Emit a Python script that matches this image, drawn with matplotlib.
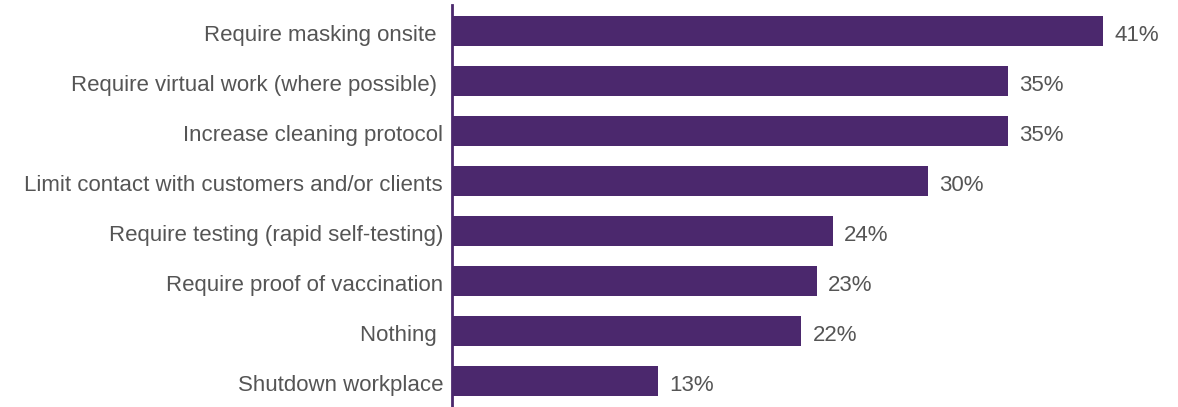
import matplotlib
matplotlib.use("Agg")
import matplotlib.pyplot as plt

categories = [
    "Require masking onsite ",
    "Require virtual work (where possible) ",
    "Increase cleaning protocol",
    "Limit contact with customers and/or clients",
    "Require testing (rapid self-testing)",
    "Require proof of vaccination",
    "Nothing ",
    "Shutdown workplace",
]
values = [41, 35, 35, 30, 24, 23, 22, 13]

purple = "#4B286D"
text_color = "#555555"

plt.rcParams["font.family"] = ["Liberation Sans", "DejaVu Sans"]

fig = plt.figure(figsize=(11.78, 4.07), dpi=100)
x0 = 452 / 1178
ax = fig.add_axes([x0, 0.0, 1 - x0, 402 / 407])

pos = list(range(len(categories)))
ax.barh(pos, values, height=0.6, color=purple, zorder=2)

ax.set_xlim(0, (1178 - 452) / 15.88)
ax.set_ylim(7.52, -0.52)

baseline_shift = 0.2
for p, v in zip(pos, values):
    ax.text(v + 0.7, p + baseline_shift, f"{v}%", va="baseline", ha="left",
            fontsize=16, color=text_color)

# category labels to the left of the axis line
label_tf = ax.get_yaxis_transform()
for p, c in zip(pos, categories):
    ax.text(-9 / 726, p + baseline_shift, c, transform=label_tf,
            va="baseline", ha="right", fontsize=16, color=text_color)

ax.set_yticks([])
ax.set_xticks([])

for s in ["top", "right", "bottom"]:
    ax.spines[s].set_visible(False)
ax.spines["left"].set_color(purple)
ax.spines["left"].set_linewidth(2)

fig.savefig("out.png", dpi=100)
